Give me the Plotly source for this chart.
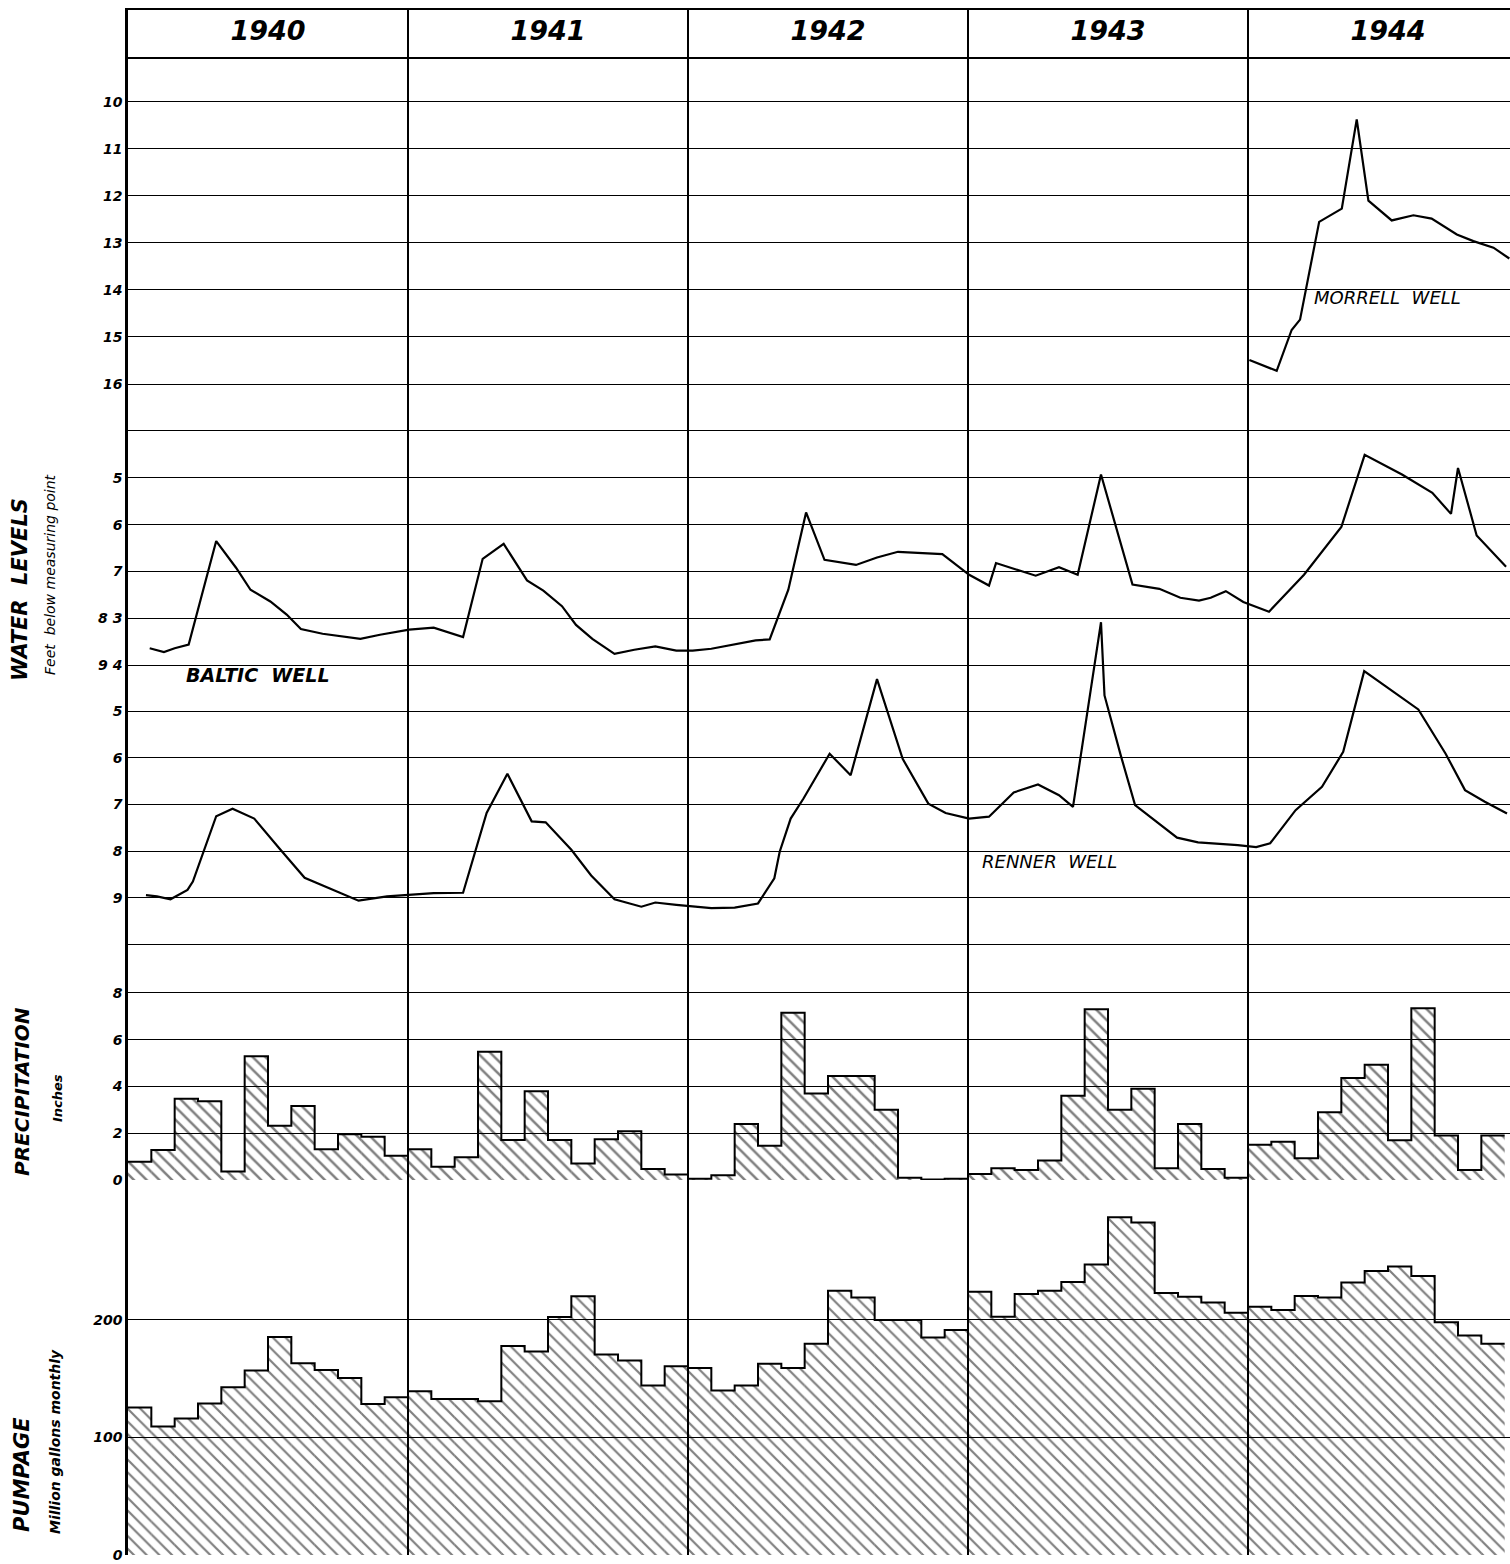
import plotly.graph_objects as go

# ---------------- data ----------------
years = ["1940", "1941", "1942", "1943", "1944"]
year_mid_month = [6, 18, 30, 42, 54]
year_start_month = [0, 12, 24, 36, 48]

# months counted from Jan 1 1940 (0 = start of 1940)
morrell_month = [48.06, 49.23, 49.87, 50.23, 51.05, 52.02, 52.66, 53.16, 54.16, 55.09,
                 55.87, 56.95, 57.66, 58.52, 59.2]
morrell_depth = [15.49, 15.72, 14.85, 14.63, 12.55, 12.27, 10.37, 12.1, 12.52, 12.41,
                 12.48, 12.82, 12.96, 13.1, 13.33]

baltic_month = [0.93, 1.54, 2.0, 2.6, 3.78, 4.63, 5.25, 6.1, 6.8, 7.41, 8.34, 9.96, 10.8,
                12.05, 13.1, 14.36, 15.2, 16.1, 17.1, 17.8, 18.6, 19.2, 19.9, 20.85, 21.7,
                22.6, 23.5, 24.2, 25.0, 26.0, 26.9, 27.5, 28.3, 29.06, 29.85, 31.2, 32.1,
                33.0, 34.25, 34.9, 36.05, 36.9, 37.2, 38.1, 38.9, 39.9, 40.7, 41.7, 43.05,
                44.2, 45.1, 45.9, 46.4, 47.05, 47.8, 48.9, 50.4, 52.0, 53.0, 54.6, 55.9,
                56.7, 57.0, 57.8, 59.06]
baltic_depth = [8.64, 8.72, 8.64, 8.56, 6.35, 6.92, 7.39, 7.64, 7.92, 8.23, 8.33, 8.44, 8.35,
                8.24, 8.2, 8.4, 6.73, 6.41, 7.19, 7.41, 7.74, 8.14, 8.44, 8.76, 8.67,
                8.6, 8.69, 8.69, 8.65, 8.55, 8.47, 8.45, 7.39, 5.74, 6.75, 6.86, 6.7,
                6.58, 6.61, 6.63, 7.07, 7.3, 6.82, 6.96, 7.09, 6.91, 7.07, 4.93, 7.28,
                7.37, 7.56, 7.62, 7.56, 7.42, 7.65, 7.86, 7.07, 6.05, 4.51, 4.93, 5.32,
                5.77, 4.79, 6.23, 6.9]

renner_month = [0.77, 1.24, 1.82, 2.16, 2.55, 2.78, 3.78, 4.48, 5.41, 6.49, 7.57, 8.65, 9.88,
                11.1, 12.1, 13.1, 14.36, 15.37, 16.26, 17.3, 17.9, 19.0, 19.85, 20.85, 22.0,
                22.6, 23.5, 24.2, 25.0, 26.0, 27.0, 27.7, 27.93, 28.4, 28.95, 30.07, 30.97,
                32.1, 33.2, 34.3, 35.04, 36.05, 36.9, 37.96, 39.0, 39.9, 40.5, 41.7, 41.85,
                42.55, 43.16, 44.96, 45.86, 47.56, 48.35, 48.95, 50.04, 51.17, 52.08, 52.98,
                55.3, 56.47, 57.3, 58.15, 59.1]
renner_depth = [8.94, 8.97, 9.03, 8.94, 8.83, 8.65, 7.25, 7.09, 7.30, 7.94, 8.57, 8.80, 9.06,
                8.97, 8.94, 8.90, 8.89, 7.18, 6.34, 7.36, 7.38, 7.97, 8.52, 9.03, 9.19,
                9.1, 9.15, 9.19, 9.22, 9.21, 9.12, 8.58, 8.01, 7.3, 6.87, 5.91, 6.37,
                4.31, 6.02, 6.98, 7.18, 7.3, 7.26, 6.74, 6.57, 6.8, 7.05, 3.09, 4.66,
                5.95, 7.01, 7.71, 7.81, 7.87, 7.91, 7.83, 7.12, 6.62, 5.87, 4.14,
                4.96, 5.91, 6.69, 6.94, 7.19]

# monthly precipitation, inches (Jan 1940 .. Nov 1944)
precip_1940 = [0.78, 1.28, 3.48, 3.37, 0.36, 5.29, 2.32, 3.16, 1.31, 1.96, 1.85, 1.04]
precip_1941 = [1.31, 0.57, 0.97, 5.48, 1.71, 3.80, 1.71, 0.71, 1.74, 2.09, 0.47, 0.24]
precip_1942 = [0.05, 0.2, 2.4, 1.47, 7.15, 3.7, 4.45, 4.45, 3.0, 0.1, 0.02, 0.05]
precip_1943 = [0.26, 0.5, 0.43, 0.83, 3.6, 7.3, 3.0, 3.9, 0.5, 2.4, 0.47, 0.1]
precip_1944 = [1.51, 1.64, 0.93, 2.9, 4.36, 4.93, 1.7, 7.35, 1.9, 0.43, 1.9]

# monthly pumpage, million gallons
pump_1940 = [125.6, 109.4, 116.2, 129, 142.7, 157, 185.5, 163.2, 157.5, 150.7, 128.5, 134.2]
pump_1941 = [139.3, 132.8, 132.8, 130.8, 177.8, 173.2, 202.6, 220.2, 170.7, 165.5, 144.2, 160.7]
pump_1942 = [159.2, 140, 144.2, 162.8, 159.2, 179.7, 224.8, 219.2, 200, 200, 185, 191.5]
pump_1943 = [224, 202.8, 222, 224.8, 232.4, 247.3, 287.3, 283, 223, 219.7, 214.9, 206.2]
pump_1944 = [211.3, 208.5, 220.3, 219.2, 231.8, 241.7, 245.6, 237.5, 198, 186.8, 179.7]

morrell_ticks = [10, 11, 12, 13, 14, 15, 16]
baltic_ticks = [4, 5, 6, 7, 8, 9]
baltic_ticktext = ["", "5", "6", "7", "8 3", "9 4"]
renner_ticks = [5, 6, 7, 8, 9, 10]
renner_ticktext = ["5", "6", "7", "8", "9", ""]
precip_ticks = [0, 2, 4, 6, 8]
pump_ticks = [0, 100, 200]

# ---------------- layout geometry ----------------
W, H = 1510, 1564
X0 = 128
MONTH_PX = 280 / 12
XMAX = (W - X0) / MONTH_PX


def py(p):
    return 1 - p / H


precip = precip_1940 + precip_1941 + precip_1942 + precip_1943 + precip_1944
pump = pump_1940 + pump_1941 + pump_1942 + pump_1943 + pump_1944

FONT = "DejaVu Sans"
tickfont = dict(family=FONT, size=14, color="black", weight="bold", style="italic")

fig = go.Figure()

LW = 2.2

# header years
fig.add_trace(go.Scatter(
    x=year_mid_month, y=[0.5] * len(years), mode="text", text=years,
    textfont=dict(family=FONT, size=27, color="black", weight="bold", style="italic"),
    xaxis="x6", yaxis="y6", hoverinfo="skip", showlegend=False, cliponaxis=False))

# water level lines
fig.add_trace(go.Scatter(x=morrell_month, y=morrell_depth, mode="lines",
                         line=dict(color="black", width=LW), xaxis="x", yaxis="y",
                         showlegend=False, hoverinfo="skip"))
fig.add_trace(go.Scatter(x=baltic_month, y=baltic_depth, mode="lines",
                         line=dict(color="black", width=LW), xaxis="x2", yaxis="y2",
                         showlegend=False, hoverinfo="skip"))
fig.add_trace(go.Scatter(x=renner_month, y=renner_depth, mode="lines",
                         line=dict(color="black", width=LW), xaxis="x3", yaxis="y3",
                         showlegend=False, hoverinfo="skip"))


# hatched bars + step outline
def bars(vals, xa, ya, size, solid):
    centers = [i + 0.5 for i in range(len(vals))]
    fig.add_trace(go.Bar(
        x=centers, y=vals, width=1,
        marker=dict(color="rgba(0,0,0,0)", line=dict(width=0),
                    pattern=dict(shape="\\", fgcolor="black", bgcolor="rgba(0,0,0,0)",
                                 size=size, solidity=solid, fillmode="overlay")),
        xaxis=xa, yaxis=ya, showlegend=False, hoverinfo="skip"))
    edges = list(range(len(vals) + 1))
    fig.add_trace(go.Scatter(
        x=edges, y=vals + [vals[-1]], mode="lines", line=dict(shape="hv", color="black", width=2),
        xaxis=xa, yaxis=ya, showlegend=False, hoverinfo="skip"))


bars(precip, "x4", "y4", 9, 0.28)
bars(pump, "x5", "y5", 9, 0.24)

# panel extents in pixels and value ranges matching them
panels = {
    1: dict(top=57, bot=431, rng=[17, 9.043], tv=morrell_ticks, tt=[str(t) for t in morrell_ticks]),
    2: dict(top=429.1, bot=712, rng=[10.0, 3.96], tv=baltic_ticks, tt=baltic_ticktext),
    3: dict(top=618, bot=947.3, rng=[10.06, 3.0], tv=renner_ticks, tt=renner_ticktext),
    4: dict(top=945, bot=1180, rng=[0, 10.05], tv=precip_ticks, tt=[str(t) for t in precip_ticks]),
    5: dict(top=1180, bot=1555, rng=[0, 319.1], tv=pump_ticks, tt=[str(t) for t in pump_ticks]),
    6: dict(top=10, bot=57, rng=[0, 1], tv=[], tt=[]),
}

layout = dict(
    width=W, height=H, margin=dict(l=0, r=0, t=0, b=0, autoexpand=False),
    paper_bgcolor="white", plot_bgcolor="rgba(0,0,0,0)",
    showlegend=False, barmode="overlay", hovermode=False,
)
for n, p in panels.items():
    sx = "" if n == 1 else str(n)
    layout["xaxis" + sx] = dict(
        domain=[X0 / W, 1], range=[0, XMAX], anchor="y" + sx,
        tickvals=year_start_month, showgrid=True, gridcolor="black", gridwidth=1.6,
        showticklabels=False, ticks="", zeroline=False, automargin=False,
        showline=(n == 6), mirror=(n == 6), linecolor="black", linewidth=2.2,
        fixedrange=True)
    layout["yaxis" + sx] = dict(
        domain=[py(p["bot"]), py(p["top"])], range=p["rng"], anchor="x" + sx,
        tickvals=p["tv"], ticktext=p["tt"], tickfont=tickfont,
        showgrid=(n != 6), gridcolor="black", gridwidth=1.3, automargin=False,
        showline=True, linecolor="black", linewidth=2.6, ticks="",
        zeroline=False, showticklabels=(n != 6), fixedrange=True)

fig.update_layout(**layout)

# well labels
fig.add_annotation(x=2.4, y=9.22, xref="x2", yref="y2", text="BALTIC  WELL",
                   showarrow=False, xanchor="left", yanchor="middle",
                   font=dict(family=FONT, size=19, color="black", weight="bold", style="italic"))
fig.add_annotation(x=36.5, y=8.22, xref="x3", yref="y3", text="RENNER  WELL",
                   showarrow=False, xanchor="left", yanchor="middle",
                   font=dict(family=FONT, size=18, color="black", style="italic"))
fig.add_annotation(x=50.75, y=14.15, xref="x", yref="y", text="MORRELL  WELL",
                   showarrow=False, xanchor="left", yanchor="middle",
                   font=dict(family=FONT, size=18, color="black", style="italic"))


# left titles
def vtitle(text, xpx, ypx, size, bold=True):
    fig.add_annotation(x=xpx / W, y=py(ypx), xref="paper", yref="paper", text=text,
                       textangle=-90, showarrow=False, xanchor="center", yanchor="middle",
                       font=dict(family=FONT, size=size, color="black",
                                 weight="bold" if bold else "normal", style="italic"))


vtitle("WATER  LEVELS", 20, 590, 21)
vtitle("Feet  below measuring point", 50, 575, 14, bold=False)
vtitle("PRECIPITATION", 22, 1092, 20)
vtitle("Inches", 57, 1098, 13)
vtitle("PUMPAGE", 22, 1475, 21)
vtitle("Million gallons monthly", 55, 1442, 14)

fig.write_html("out.html", config={"displayModeBar": False},
               post_script="document.body.style.margin='0px'; document.body.style.overflow='hidden';")
